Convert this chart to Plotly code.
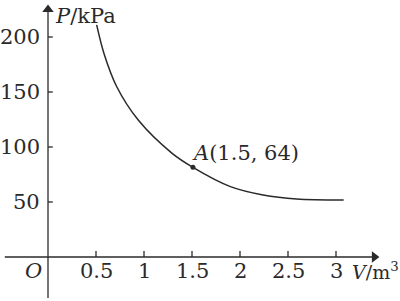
import plotly.graph_objects as go

# Data
V = [0.507, 0.583, 0.715, 0.94, 1.29, 1.51, 1.9, 2.24, 2.59, 3.08]
P = [211, 185, 155, 124.5, 94.5, 81.5, 64, 56.4, 52.7, 51.8]
point_A = (1.51, 81.5)
x_ticks = [0.5, 1, 1.5, 2, 2.5, 3]
x_tick_labels = ["0.5", "1", "1.5", "2", "2.5", "3"]
y_ticks = [50, 100, 150, 200]
y_tick_labels = ["50", "100", "150", "200"]

FONT = "DejaVu Serif"
FS = 21
INK = "#2a2a2a"

fig = go.Figure()

# curve
fig.add_trace(go.Scatter(x=V, y=P, mode="lines",
                         line=dict(color=INK, width=1.5, shape="spline", smoothing=0.9),
                         hoverinfo="skip"))
# point A
fig.add_trace(go.Scatter(x=[point_A[0]], y=[point_A[1]], mode="markers",
                         marker=dict(color=INK, size=5), hoverinfo="skip"))

# tick marks
tx, ty = [], []
for t in x_ticks:
    tx += [t, t, None]
    ty += [0, 5.5, None]
for t in y_ticks:
    tx += [0, 0.05, None]
    ty += [t, t, None]
fig.add_trace(go.Scatter(x=tx, y=ty, mode="lines", line=dict(color=INK, width=1.3),
                         hoverinfo="skip"))

# axes lines
fig.add_trace(go.Scatter(x=[-0.45, 3.40], y=[0, 0], mode="lines",
                         line=dict(color=INK, width=1.3), hoverinfo="skip"))
fig.add_trace(go.Scatter(x=[0, 0], y=[-37.3, 225], mode="lines",
                         line=dict(color=INK, width=1.3), hoverinfo="skip"))
# arrowheads
fig.add_trace(go.Scatter(x=[3.40], y=[0], mode="markers",
                         marker=dict(symbol="triangle-right", color=INK, size=10,
                                     line=dict(width=0)), hoverinfo="skip"))
fig.add_trace(go.Scatter(x=[0], y=[225], mode="markers",
                         marker=dict(symbol="triangle-up", color=INK, size=10,
                                     line=dict(width=0)), hoverinfo="skip"))

font = dict(family=FONT, size=FS, color=INK)
for t, lab in zip(x_ticks, x_tick_labels):
    fig.add_annotation(x=t, y=-12.5, text=lab, showarrow=False, font=font,
                       xanchor="center", yanchor="middle")
for t, lab in zip(y_ticks, y_tick_labels):
    fig.add_annotation(x=-0.06, y=t, text=lab, showarrow=False, font=font,
                       xanchor="right", yanchor="middle")
fig.add_annotation(x=-0.155, y=-12.5, text="<i>O</i>", showarrow=False, font=font,
                   xanchor="center", yanchor="middle")
fig.add_annotation(x=0.052, y=219, text="<i>P</i>/kPa", showarrow=False, font=font,
                   xanchor="left", yanchor="middle")
fig.add_annotation(x=3.15, y=-12.5, text="<i>V</i>/m<sup>3</sup>", showarrow=False,
                   font=dict(family=FONT, size=19, color=INK),
                   xanchor="left", yanchor="middle")
fig.add_annotation(x=1.475, y=95, text="<i>A</i>(1.5, 64)", showarrow=False, font=font,
                   xanchor="left", yanchor="middle")

fig.update_layout(
    width=400, height=301,
    margin=dict(l=0, r=0, t=0, b=0),
    paper_bgcolor="white", plot_bgcolor="white",
    showlegend=False,
    xaxis=dict(range=[-0.5, 3.6667], visible=False, fixedrange=True),
    yaxis=dict(range=[-40, 233.64], visible=False, fixedrange=True),
)

fig.write_html("out.html")
